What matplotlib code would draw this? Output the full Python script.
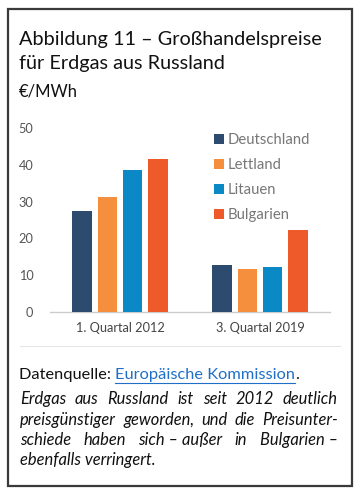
import matplotlib
matplotlib.use("Agg")
import matplotlib.pyplot as plt
from matplotlib.patches import Rectangle
from matplotlib.lines import Line2D
import numpy as np

plt.rcParams['font.family'] = ['Lato', 'DejaVu Sans']

# ---- data ----
groups = ["1. Quartal 2012", "3. Quartal 2019"]
countries = ["Deutschland", "Lettland", "Litauen", "Bulgarien"]
deutschland = [27.5, 12.7]
lettland = [31.3, 11.6]
litauen = [38.5, 12.2]
bulgarien = [41.7, 22.4]
series = [deutschland, lettland, litauen, bulgarien]
colors = ["#2d4a6f", "#f58f3d", "#0b88c6", "#ef5a2b"]
yticks = [0, 10, 20, 30, 40, 50]

title_lines = ["Abbildung 11 – Großhandelspreise", "für Erdgas aus Russland"]
unit = "€/MWh"
source_prefix = "Datenquelle: "
source_link = "Europäische Kommission"
paragraph = [
    ["Erdgas", "aus", "Russland", "ist", "seit", "2012", "deutlich"],
    ["preisgünstiger", "geworden,", "und", "die", "Preisunter-"],
    ["schiede", "haben", "sich – außer", "in", "Bulgarien –"],
    ["ebenfalls verringert."],
]

W, H = 360, 493
fig = plt.figure(figsize=(W / 100, H / 100), dpi=100)
fig.patch.set_facecolor("white")

def fx(px):
    return px / W

def fy(py):
    return 1 - py / H

# border box
fig.patches.append(Rectangle((fx(7.5), fy(486)), fx(352) - fx(7.5), fy(8.5) - fy(486),
                             transform=fig.transFigure, fill=False,
                             edgecolor="#3a3a3a", linewidth=1.6))

# title
fig.text(fx(19), fy(40), title_lines[0], fontsize=14.3, color="#111111", va="center", ha="left")
fig.text(fx(19), fy(64), title_lines[1], fontsize=14.3, color="#111111", va="center", ha="left")
fig.text(fx(19), fy(92), unit, fontsize=12, color="#111111", va="center", ha="left")

# axes
ax = fig.add_axes([fx(50), fy(312), fx(330) - fx(50), fy(128) - fy(312)])
x = np.arange(len(groups))
width = 0.139
offsets = np.array([-1.5, -0.5, 0.5, 1.5]) * 0.182
for i, (vals, c, name) in enumerate(zip(series, colors, countries)):
    ax.bar(x + offsets[i], vals, width, color=c, label=name, zorder=3)

ax.set_xlim(-0.5, 1.5)
ax.set_ylim(0, 50)
ax.set_yticks(yticks)
ax.set_yticklabels([str(t) for t in yticks])
ax.set_xticks(x)
ax.set_xticklabels(groups)
for s in ["top", "right", "left"]:
    ax.spines[s].set_visible(False)
ax.spines["bottom"].set_color("#cccccc")
ax.spines["bottom"].set_linewidth(1.0)
ax.tick_params(axis="y", length=0, pad=12, labelsize=9.2, labelcolor="#555555")
ax.tick_params(axis="x", length=0, pad=7, labelsize=9.2, labelcolor="#444444")
ax.set_facecolor("none")

leg = ax.legend(loc="upper left", bbox_to_anchor=((214 - 50) / 280, (312 - 133) / 184),
                frameon=False,
                fontsize=10.7, handlelength=0.65, handleheight=0.65, handletextpad=0.25,
                labelspacing=0.75, borderaxespad=0, borderpad=0)
for t in leg.get_texts():
    t.set_color("#777777")

# separator line
fig.add_artist(Line2D([fx(20), fx(340)], [fy(346), fy(346)], transform=fig.transFigure,
                      color="#e6e6e6", linewidth=0.8))

# source line
fig.canvas.draw()
renderer = fig.canvas.get_renderer()
fs_src = 11.8
t1 = fig.text(fx(19), fy(375), source_prefix, fontsize=fs_src, color="#111111", va="center", ha="left")
bb1 = t1.get_window_extent(renderer)
t2 = fig.text(bb1.x1 / W, fy(375), source_link, fontsize=fs_src, color="#1f6fc8", va="center", ha="left")
bb2 = t2.get_window_extent(renderer)
fig.add_artist(Line2D([bb2.x0 / W, bb2.x1 / W], [fy(383), fy(383)], transform=fig.transFigure,
                      color="#1f6fc8", linewidth=0.8))
fig.text(bb2.x1 / W, fy(375), ".", fontsize=fs_src, color="#111111", va="center", ha="left")

# justified italic paragraph
fs_par = 11.9
left_px, right_px = 20, 338
line_y = [399, 420, 440, 460]
for li, words in enumerate(paragraph):
    y = fy(line_y[li])
    if li == len(paragraph) - 1:
        fig.text(fx(left_px), y, " ".join(words), fontsize=fs_par, style="italic",
                 color="#111111", va="center", ha="left")
        continue
    texts = [fig.text(0, y, w, fontsize=fs_par, style="italic", color="#111111",
                      va="center", ha="left") for w in words]
    widths = [t.get_window_extent(renderer).width for t in texts]
    gap = ((right_px - left_px) - sum(widths)) / (len(words) - 1)
    xpos = left_px
    for t, wdt in zip(texts, widths):
        t.set_x(fx(xpos))
        xpos += wdt + gap

fig.savefig("out.png", dpi=100, facecolor="white")
